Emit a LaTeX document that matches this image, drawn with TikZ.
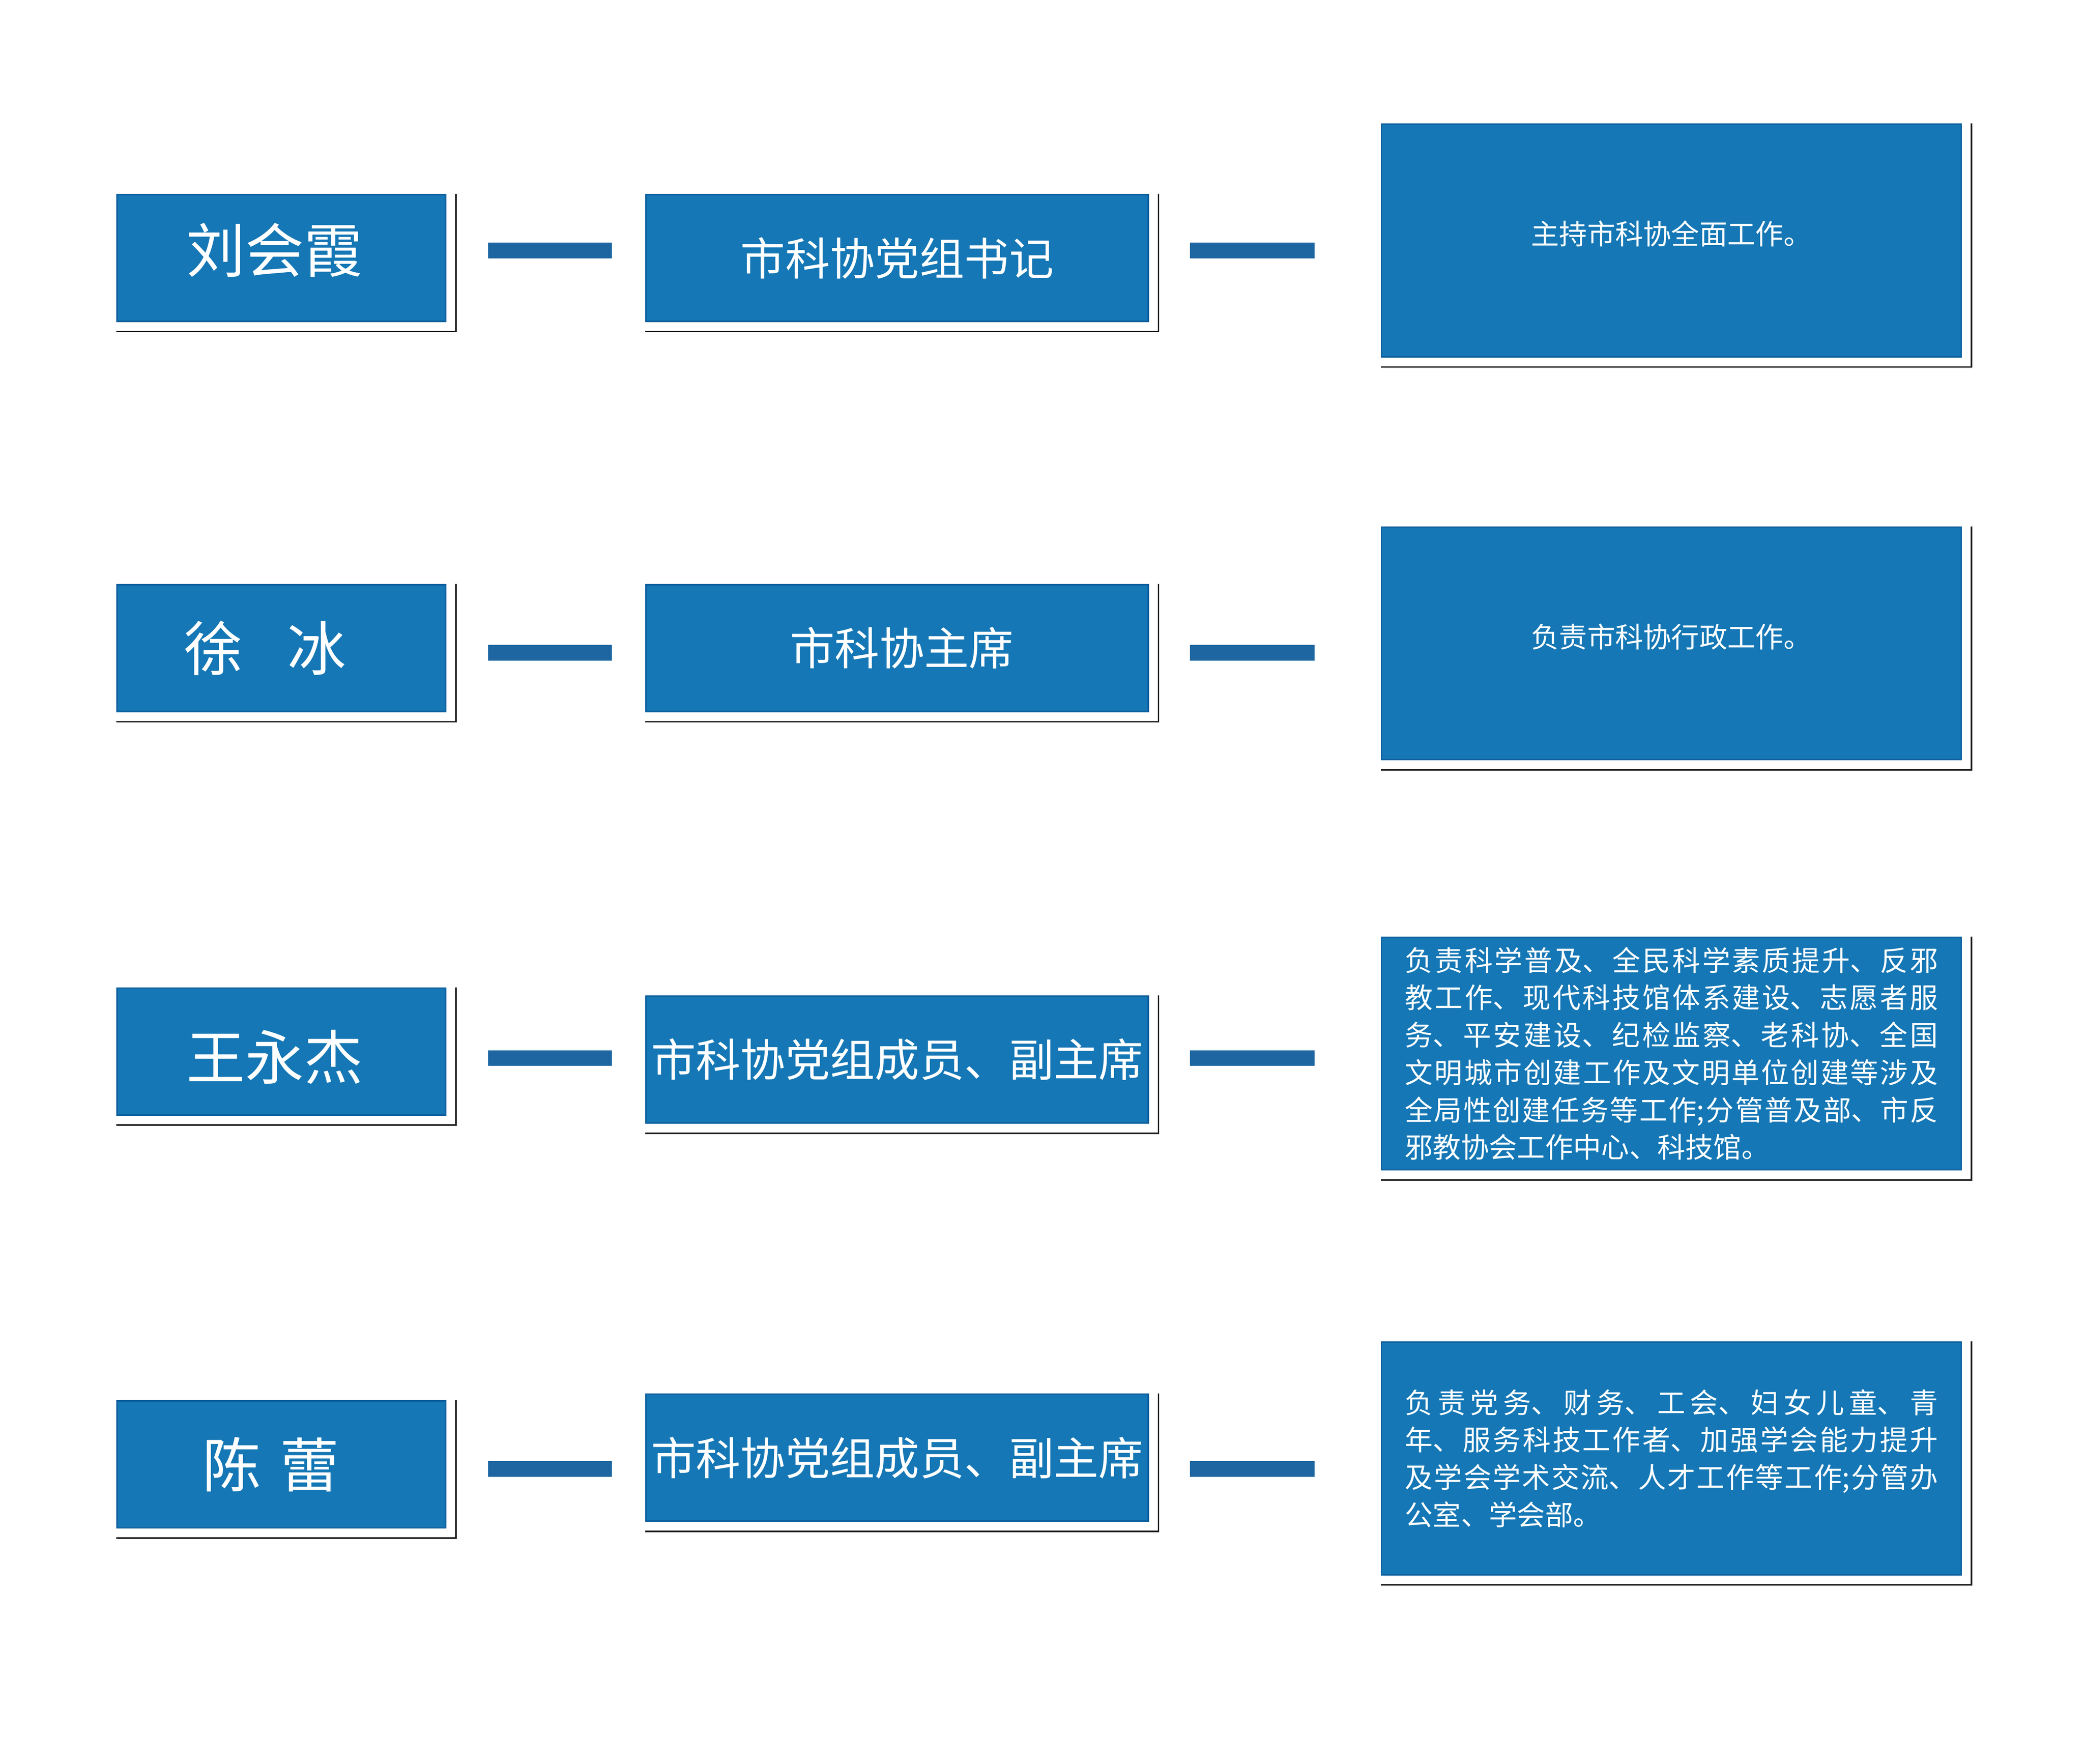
\documentclass[tikz,border=0pt]{standalone}
\usepackage{fontspec}
\newfontfamily\cjk{Noto Sans CJK SC}
\XeTeXlinebreaklocale "zh"
\XeTeXlinebreakskip=0pt plus 5pt
\usetikzlibrary{calc}
\definecolor{boxblue}{HTML}{1577B5}
\definecolor{boxedge}{HTML}{0D609E}
\definecolor{linkblue}{HTML}{1D66A2}

\begin{document}
\begin{tikzpicture}[x=1pt,y=-1pt,
        card/.style={
          draw=boxedge,line width=1.2pt,
          fill=boxblue,text=white,
          anchor=north west,inner sep=0pt
        },
        person/.style={card,minimum width=246pt,minimum height=95pt,
          font=\cjk\fontsize{44}{50}\selectfont},
        office/.style={card,minimum width=376pt,minimum height=95pt,
          font=\cjk\fontsize{33.5}{40}\selectfont},
        duty/.style={card,minimum width=434pt,minimum height=174pt,
          font=\cjk\fontsize{21}{28}\selectfont},
        dutyline/.style={duty,text height=18.5pt,text depth=12.5pt},
        dutylist/.style={duty,text width=399pt,align=justify},
        link/.style={draw=linkblue,line width=11.8pt},
        frame/.style={draw=black!88,line width=1.2pt},
      ]
      \useasboundingbox (0,0) rectangle (1560,1320.3);

      \node[person,text height=38.7pt,text depth=17.3pt] (n1) at (87,145) {刘会霞\hspace{10pt}\null};
      \node[office] (p1) at (483,145) {市科协党组书记};
      \node[dutyline] (d1) at (1033.5,92.5) {主持市科协全面工作。};

      \node[person] (n2) at (87,437) {徐\hspace{0.76em}冰\hspace{24pt}\null};
      \node[office] (p2) at (483,437) {\hspace{7pt}市科协主席};
      \node[dutyline] (d2) at (1033.5,394) {负责市科协行政工作。};

      \node[person,text height=47pt,text depth=5.3pt] (n3) at (87,739) {王永杰\hspace{10pt}\null};
      \node[office] (p3) at (483,745) {市科协党组成员、副主席};
      \node[dutylist] (d3) at (1033.5,701) {负责科学普及、全民科学素质提升、反邪\linebreak%
        教工作、现代科技馆体系建设、志愿者服\linebreak%
        务、平安建设、纪检监察、老科协、全国\linebreak%
        文明城市创建工作及文明单位创建等涉及\linebreak%
        全局性创建任务等工作;分管普及部、市反\linebreak%
        邪教协会工作中心、科技馆。};

      \node[person] (n4) at (87,1048) {陈\hspace{0.33em}蕾\hspace{16pt}\null};
      \node[office] (p4) at (483,1043) {市科协党组成员、副主席};
      \node[dutylist] (d4) at (1033.5,1004) {负责党务、财务、工会、妇女儿童、青\linebreak%
        年、服务科技工作者、加强学会能力提升\linebreak%
        及学会学术交流、人才工作等工作;分管办\linebreak%
        公室、学会部。};

      % offset frame lines on the right and bottom
      \foreach \b in {n1,p1,d1,n2,p2,d2,n3,p3,d3,n4,p4,d4}
        \draw[frame] ([xshift=7pt]\b.north east) |- ([yshift=-7pt]\b.south west);

      % connector heights
      \coordinate (r1) at (0,187.6);
      \coordinate (r2) at (0,488.5);
      \coordinate (r3) at (0,792);
      \coordinate (r4) at (0,1099.5);

      \foreach \i in {1,2,3,4} {
        \draw[link] ($(n\i.east |- r\i)+(31,0)$) -- ($(p\i.west |- r\i)+(-25,0)$);
        \draw[link] ($(p\i.east |- r\i)+(30.7,0)$) -- ($(d\i.west |- r\i)+(-49.5,0)$);
      }
    \end{tikzpicture}
\end{document}
